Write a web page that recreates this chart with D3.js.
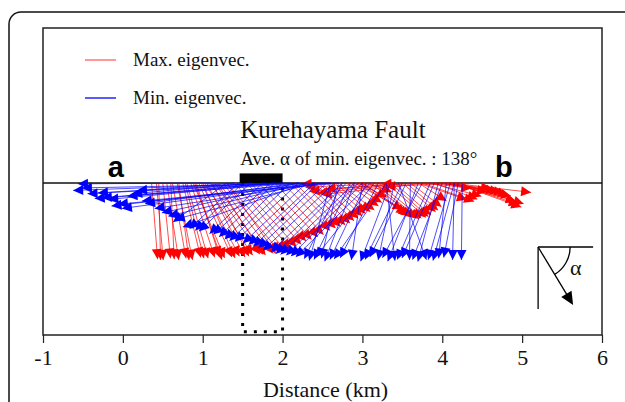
<!DOCTYPE html>
<html>
<head>
<meta charset="utf-8">
<script src="https://cdn.jsdelivr.net/npm/d3@7"></script>
<style>
  body { margin: 0; background: #fff; }
  svg { display: block; }
</style>
</head>
<body>
<div id="chart-container"></div>
<script>
// Distance ticks (km)
const xTicks = [-1, 0, 1, 2, 3, 4, 5, 6];

// Max. eigenvectors: tail on the surface (km), head position (km) and head depth (km)
const redTail   = [0.36, 0.42, 0.5, 0.55, 0.62, 0.68, 0.75, 0.8, 0.85, 0.92, 0.88, 0.95, 0.98, 1.05, 1.02, 1.1, 1.15, 1.2, 1.25,
                   1.3, 1.45, 1.6, 1.8, 2.0, 2.15, 2.3, 2.45, 2.6, 2.7, 2.85, 2.95, 3.05,
                   2.9, 2.95, 3.0, 3.1, 3.2, 3.3, 3.4, 3.5, 3.6, 3.7,
                   3.8, 3.7, 3.75, 3.85, 3.9, 4.0, 3.95, 4.05, 4.1, 4.15, 4.2, 4.1,
                   3.3, 3.5, 3.6, 3.7, 4.2,
                   0.45, 0.6, 0.7, 0.78, 0.9, 1.0, 1.12, 1.18, 1.3,
                   1.4, 1.55, 1.7, 1.9, 2.1, 2.25, 2.4, 2.55, 2.65, 2.8,
                   3.0, 3.15, 3.35, 3.55,
                   3.9, 4.0, 4.05, 4.1, 4.15,
                   3.4, 3.8, 4.3];
const redHeadX  = [0.43, 0.5, 0.59, 0.69, 0.78, 0.86, 0.96, 1.05, 1.13, 1.19, 1.25, 1.34, 1.43, 1.5, 1.59, 1.68, 1.75, 1.84, 1.93,
                   2.0, 2.13, 2.25, 2.4, 2.55, 2.68, 2.8, 2.9, 2.99, 3.1, 3.19, 3.25, 3.31,
                   3.45, 3.5, 3.56, 3.62, 3.69, 3.75, 3.81, 3.87, 3.94, 4.0,
                   4.3, 4.25, 4.34, 4.43, 4.55, 4.61, 4.71, 4.8, 4.86, 4.93, 4.96, 5.05,
                   2.3, 2.4, 2.5, 2.6, 3.3,
                   0.47, 0.64, 0.82, 1.0, 1.22, 1.38, 1.55, 1.72, 1.88,
                   2.06, 2.19, 2.32, 2.47, 2.62, 2.74, 2.85, 2.95, 3.05, 3.15,
                   3.53, 3.66, 3.78, 3.9,
                   4.38, 4.5, 4.66, 4.76, 4.9,
                   2.35, 2.55, 3.35];
const redHeadZ  = [0.89, 0.9, 0.88, 0.9, 0.88, 0.9, 0.87, 0.88, 0.87, 0.86, 0.88, 0.87, 0.86, 0.87, 0.85, 0.84, 0.85, 0.83, 0.82,
                   0.8, 0.75, 0.68, 0.63, 0.55, 0.5, 0.46, 0.4, 0.34, 0.3, 0.21, 0.15, 0.09,
                   0.3, 0.35, 0.38, 0.4, 0.4, 0.39, 0.36, 0.32, 0.26, 0.19,
                   0.06, 0.19, 0.21, 0.15, 0.06, 0.09, 0.11, 0.15, 0.21, 0.28, 0.24, 0.11,
                   0.01, 0.1, 0.12, 0.07, 0.01,
                   0.9, 0.89, 0.9, 0.88, 0.9, 0.88, 0.86, 0.84, 0.83,
                   0.78, 0.72, 0.66, 0.6, 0.52, 0.48, 0.43, 0.37, 0.32, 0.25,
                   0.37, 0.41, 0.38, 0.3,
                   0.18, 0.1, 0.1, 0.13, 0.25,
                   0.05, 0.14, 0.04];

// Min. eigenvectors
const blueTail  = [1.1, 2.0, 2.1, 2.2, 1.9, 2.3, 2.4, 1.6, 1.4, 2.2, 2.5, 2.3, 2.4, 2.3,
                   1.45, 1.6, 1.75, 1.9, 2.1, 2.3, 2.45, 2.65, 2.8, 2.95, 3.1,
                   2.75, 2.85, 2.7, 3.05, 3.2, 3.0, 3.35, 3.55, 3.4, 3.7, 3.85, 3.6, 3.95, 4.1, 4.05, 4.2, 4.15, 4.25,
                   2.6, 1.8, 2.0, 2.7, 1.9, 2.6, 2.2, 1.3,
                   1.5, 1.85, 2.0, 2.2, 2.4, 2.55, 2.75, 2.9, 3.0,
                   2.6, 3.15, 2.9, 3.3, 3.5, 3.75, 3.3, 3.9, 4.0, 3.45, 4.15];
const blueHeadX = [-0.5, -0.56, -0.38, -0.29, -0.2, -0.08, 0.05, 0.18, 0.24, 0.34, 0.46, 0.63, 0.71, 0.81,
                   0.88, 1.0, 1.13, 1.25, 1.38, 1.55, 1.68, 1.8, 1.96, 2.09, 2.21,
                   2.3, 2.42, 2.5, 2.62, 2.75, 2.87, 3.0, 3.12, 3.21, 3.34, 3.46, 3.59, 3.71, 3.84, 3.96, 4.03, 4.13, 4.24,
                   -0.45, -0.25, -0.12, 0.0, 0.12, 0.3, 0.55, 0.68,
                   0.95, 1.18, 1.32, 1.45, 1.62, 1.74, 1.9, 2.02, 2.15,
                   2.35, 2.45, 2.55, 2.68, 3.06, 3.28, 3.4, 3.52, 3.65, 3.78, 3.9];
const blueHeadZ = [0.01, 0.09, 0.13, 0.19, 0.18, 0.28, 0.31, 0.13, 0.09, 0.25, 0.31, 0.4, 0.44, 0.53,
                   0.53, 0.56, 0.59, 0.63, 0.68, 0.71, 0.75, 0.8, 0.84, 0.86, 0.88,
                   0.89, 0.9, 0.88, 0.9, 0.88, 0.9, 0.92, 0.87, 0.9, 0.92, 0.9, 0.9, 0.92, 0.9, 0.88, 0.87, 0.9, 0.9,
                   0.06, 0.12, 0.2, 0.26, 0.16, 0.22, 0.36, 0.45,
                   0.55, 0.6, 0.66, 0.69, 0.73, 0.77, 0.82, 0.85, 0.87,
                   0.91, 0.88, 0.92, 0.9, 0.9, 0.88, 0.91, 0.88, 0.9, 0.9, 0.91];

// Fault zone (km) and depth of the dotted box
const faultZone = [1.5, 2.0];
const faultBottom = 1.86;

const W = 625, H = 402;
const margin = { top: 28, right: 23, bottom: 67, left: 43 };
const width = W - margin.left - margin.right;
const height = H - margin.top - margin.bottom;

const x = d3.scaleLinear().domain([-1, 6]).range([0, width]);
const y = d3.scaleLinear().domain([-1.9375, 1.9]).range([0, height]);

const root = d3.select("#chart-container")
  .append("svg")
  .attr("width", W)
  .attr("height", H);

// outer rounded frame (runs off the right and bottom edges)
root.append("rect")
  .attr("x", 9).attr("y", 12)
  .attr("width", 660).attr("height", 440)
  .attr("rx", 12)
  .attr("fill", "none")
  .attr("stroke", "#111")
  .attr("stroke-width", 1.5);

const svg = root.append("g")
  .attr("transform", `translate(${margin.left},${margin.top})`);

const serif = "'Liberation Serif', 'Times New Roman', serif";

// plot box
svg.append("rect")
  .attr("width", width)
  .attr("height", height)
  .attr("fill", "none")
  .attr("stroke", "#222")
  .attr("stroke-width", 1.5);

// x axis
const xAxis = svg.append("g")
  .attr("transform", `translate(0,${height})`)
  .call(d3.axisBottom(x).tickValues(xTicks).tickSize(8).tickPadding(6));
xAxis.select(".domain").remove();
xAxis.selectAll(".tick line").attr("stroke", "#222").attr("stroke-width", 1.2);
xAxis.selectAll(".tick text")
  .attr("font-family", serif)
  .attr("font-size", 22)
  .attr("fill", "#111")
  .text(d => d < 0 ? "-" + Math.abs(d) : d);

svg.append("text")
  .attr("x", width / 2 + 3)
  .attr("y", height + 62)
  .attr("text-anchor", "middle")
  .attr("font-family", serif)
  .attr("font-size", 22)
  .attr("fill", "#111")
  .text("Distance (km)");

// fault zone dotted box
const fz = [[faultZone[0], 0], [faultZone[0], faultBottom], [faultZone[1], faultBottom], [faultZone[1], 0]];
svg.append("path")
  .attr("d", d3.line().x(d => x(d[0])).y(d => y(d[1]))(fz))
  .attr("fill", "none")
  .attr("stroke", "#000")
  .attr("stroke-width", 3)
  .attr("stroke-dasharray", "3 7");

// surface line
svg.append("line")
  .attr("x1", 0).attr("x2", width)
  .attr("y1", y(0)).attr("y2", y(0))
  .attr("stroke", "#111")
  .attr("stroke-width", 1.3);

// fault bar
svg.append("rect")
  .attr("x", x(faultZone[0]) - 3)
  .attr("y", y(-0.12))
  .attr("width", x(faultZone[1]) - x(faultZone[0]) + 3)
  .attr("height", y(0) - y(-0.12))
  .attr("fill", "#000");

// arrows (head position = centre of the arrowhead triangle)
function drawArrows(tails, hx, hz, color) {
  const L = 10, w = 5;
  const data = tails.map((t, i) => {
    const x0 = x(t), y0 = y(0), cx = x(hx[i]), cy = y(hz[i]);
    const len = Math.hypot(cx - x0, cy - y0) || 1;
    const ux = (cx - x0) / len, uy = (cy - y0) / len;
    return { x0, y0, ux, uy, tx: cx + ux * L / 2, ty: cy + uy * L / 2 };
  });
  const g = svg.append("g");
  g.selectAll("line")
    .data(data)
    .join("line")
    .attr("x1", d => d.x0).attr("y1", d => d.y0)
    .attr("x2", d => d.tx).attr("y2", d => d.ty)
    .attr("stroke", color)
    .attr("stroke-width", 0.7);
  g.selectAll("path")
    .data(data)
    .join("path")
    .attr("d", d => {
      const bx = d.tx - d.ux * L, by = d.ty - d.uy * L;
      return `M${d.tx},${d.ty}L${bx - d.uy * w},${by + d.ux * w}L${bx + d.uy * w},${by - d.ux * w}Z`;
    })
    .attr("fill", color);
}
drawArrows(redTail, redHeadX, redHeadZ, "#ff0000");
drawArrows(blueTail, blueHeadX, blueHeadZ, "#0000ff");

// legend
const legend = [
  { label: "Max. eigenvec.", color: "#ff3030", w: 1, yPos: 32 },
  { label: "Min. eigenvec.", color: "#5a5aff", w: 2, yPos: 70 }
];
legend.forEach(l => {
  svg.append("line")
    .attr("x1", 42).attr("x2", 73)
    .attr("y1", l.yPos).attr("y2", l.yPos)
    .attr("stroke", l.color)
    .attr("stroke-width", l.w);
  svg.append("text")
    .attr("x", 90).attr("y", l.yPos + 6)
    .attr("font-family", serif)
    .attr("font-size", 19)
    .attr("fill", "#111")
    .text(l.label);
});

// titles
svg.append("text")
  .attr("x", x(1.47)).attr("y", 110)
  .attr("font-family", serif)
  .attr("font-size", 25)
  .attr("fill", "#111")
  .text("Kurehayama Fault");

svg.append("text")
  .attr("x", x(1.47)).attr("y", 137)
  .attr("font-family", serif)
  .attr("font-size", 19)
  .attr("fill", "#111")
  .text("Ave. \u03b1 of min. eigenvec. : 138\u00b0");

svg.append("text")
  .attr("x", x(-0.19)).attr("y", y(-0.08))
  .attr("font-family", "'Liberation Sans', Arial, sans-serif")
  .attr("font-weight", "bold")
  .attr("font-size", 29)
  .attr("fill", "#000")
  .text("a");

svg.append("text")
  .attr("x", x(4.66)).attr("y", y(-0.08))
  .attr("font-family", "'Liberation Sans', Arial, sans-serif")
  .attr("font-weight", "bold")
  .attr("font-size", 29)
  .attr("fill", "#000")
  .text("b");

// alpha key
const ox = x(5.2), oy = y(0.8);
const key = svg.append("g").attr("stroke", "#000").attr("stroke-width", 1.3).attr("fill", "none");
key.append("line").attr("x1", ox).attr("y1", oy).attr("x2", ox).attr("y2", oy + 62);
key.append("line").attr("x1", ox).attr("y1", oy).attr("x2", ox + 55).attr("y2", oy);
const ang = Math.atan2(58, 35);
const tipX = ox + 35, tipY = oy + 58;
key.append("line").attr("x1", ox).attr("y1", oy).attr("x2", tipX - Math.cos(ang) * 8).attr("y2", tipY - Math.sin(ang) * 8);
key.append("path")
  .attr("d", d3.arc().innerRadius(32).outerRadius(32).startAngle(Math.PI / 2).endAngle(Math.PI / 2 + ang)())
  .attr("transform", `translate(${ox},${oy})`);
{
  const ux = Math.cos(ang), uy = Math.sin(ang), L = 13, w = 6;
  const bx = tipX - ux * L, by = tipY - uy * L;
  svg.append("path")
    .attr("d", `M${tipX},${tipY}L${bx - uy * w},${by + ux * w}L${bx + uy * w},${by - ux * w}Z`)
    .attr("fill", "#000");
}
svg.append("text")
  .attr("x", ox + 32).attr("y", oy + 28)
  .attr("font-family", serif)
  .attr("font-size", 22)
  .attr("fill", "#111")
  .text("\u03b1");
</script>
</body>
</html>
